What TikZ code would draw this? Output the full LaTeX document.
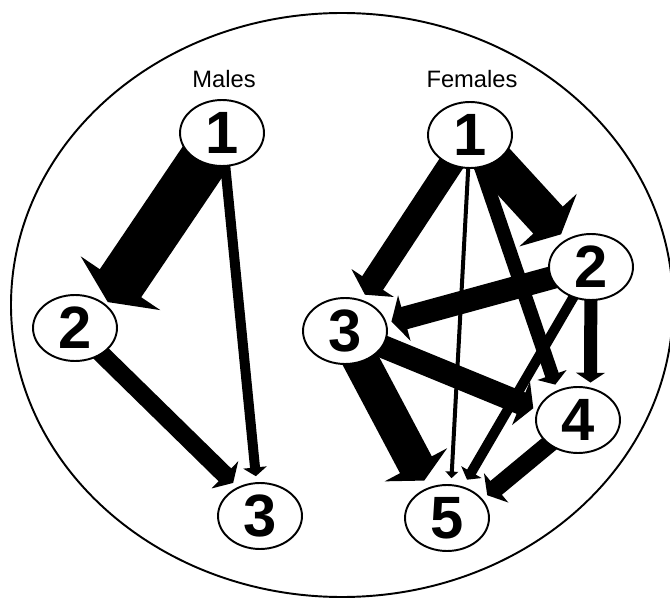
\documentclass[tikz,border=0pt]{standalone}
\usepackage{fontspec}
\setmainfont{Liberation Sans}
\usepackage{tikz}
\usetikzlibrary{arrows.meta,shapes.geometric}
\pgfdeclarelayer{bg}
\pgfsetlayers{bg,main}

\begin{document}
\begin{tikzpicture}[x=0.02cm, y=-0.02cm,
  indiv/.style={ellipse, draw, line width=1.1pt, fill=white, minimum width=1.68cm,
    minimum height=1.32cm, inner sep=0pt, font=\fontsize{34}{34}\selectfont\bfseries},
  sexlabel/.style={font=\fontsize{13.5}{14}\selectfont},
  link/.style={line width=#1*0.569pt, -{Triangle[width=3pt 1.8, length=3pt 0.35]}}]
  \useasboundingbox (0,0) rectangle (670,598);
  % males
  \node[sexlabel] (mlab) at (224,79) {Males};
  \node[indiv] (m1) at (222,133) {1};
  \node[indiv] (m2) at (75,328) {2};
  \node[indiv] (m3) at (260,516) {3};
  % females
  \node[sexlabel] (flab) at (472,79) {Females};
  \node[indiv] (f1) at (470,135) {1};
  \node[indiv] (f2) at (591,267) {2};
  \node[indiv] (f3) at (345,331) {3};
  \node[indiv] (f4) at (578,420) {4};
  \node[indiv] (f5) at (447,518) {5};
  \begin{pgfonlayer}{bg}
    \draw[line width=1.1pt] (342,305) ellipse [x radius=331, y radius=292];
    \draw[link=50, shorten >=1.7pt] (m1.center) -- (m2.37);
    \draw[link=10, shorten >=3.4pt] (m1.center) -- (m3.96);
    \draw[link=18, shorten >=3.4pt] (m2.center) -- (m3.128);
    \draw[link=40, shorten >=4pt] (f1.center) -- (f2);
    \draw[link=25, shorten >=3.4pt] (f1.center) -- (f3.62);
    \draw[link=14, shorten >=3.4pt] (f1.center) -- (f4.125);
    \draw[link=4, shorten >=3.4pt] (f1.center) -- (f5.83);
    \draw[link=23, shorten >=2.8pt] (f2.center) -- (f3.11);
    \draw[link=13, shorten >=2.8pt] (f2.center) -- (f4.69);
    \draw[link=10, shorten >=4.5pt] (f2.center) -- (f5.63);
    \draw[link=23, shorten >=2.3pt] (f3.center) -- (f4.166);
    \draw[link=36, shorten >=4.5pt] (f3.center) -- (f5.122);
    \draw[link=18, shorten >=3.4pt] (f4.center) -- (f5.28);
  \end{pgfonlayer}
\end{tikzpicture}
\end{document}
